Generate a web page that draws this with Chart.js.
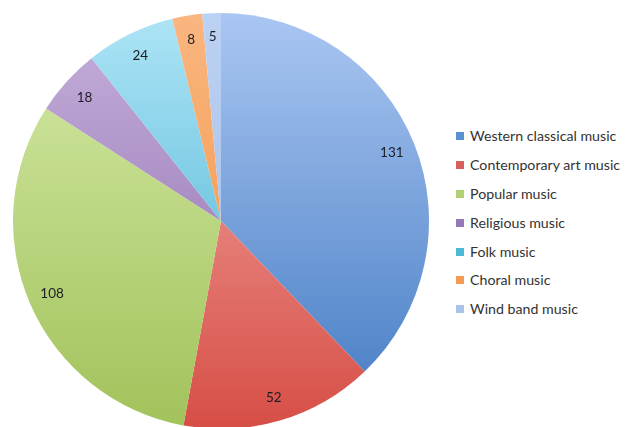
<!DOCTYPE html>
<html><head><meta charset="utf-8">
<script src="https://cdn.jsdelivr.net/npm/chart.js@4/dist/chart.umd.min.js"></script>
<style>
html,body{margin:0;padding:0;background:#fff;overflow:hidden;width:630px;height:427px;}
#wrap{position:absolute;left:0;top:0;width:442px;height:442px;}
#legend{position:absolute;left:456px;top:127px;font-family:Lato,"Open Sans",sans-serif;font-size:14.2px;color:#333;}
.row{height:28.9px;display:flex;align-items:flex-start;white-space:nowrap;}
.sw{width:8px;height:8px;margin:5px 6px 0 0;}
</style></head><body>
<div id="wrap"><canvas id="c" width="442" height="442"></canvas></div>
<div id="legend"></div>
<script>
const categories = ["Western classical music","Contemporary art music","Popular music","Religious music","Folk music","Choral music","Wind band music"];
const counts = [131, 52, 108, 18, 24, 8, 5];
const lightColors = ["#aac6f2","#f6b0ac","#d4eaa8","#c6b0dc","#aee4f6","#fab680","#bcd2f4"];
const darkColors  = ["#427ac2","#d64e46","#a2c25a","#8866a8","#3aacce","#f08e3a","#9eb8e2"];
const legendColors = ["#5b8fd4","#d9605a","#b2d074","#9478b8","#4cb8d8","#f49c54","#a8c2ea"];

function grad(ctx, i){
  const chart = ctx.chart, a = chart.chartArea;
  if(!a) return lightColors[i];
  const g = chart.ctx.createLinearGradient(0, a.top, 0, a.bottom);
  g.addColorStop(0, lightColors[i]);
  g.addColorStop(1, darkColors[i]);
  return g;
}

const labelPlugin = {
  id:'sliceLabels',
  afterDatasetsDraw(chart){
    const ctx = chart.ctx;
    const meta = chart.getDatasetMeta(0);
    ctx.save();
    ctx.font = '13.5px Lato, "Open Sans", sans-serif';
    ctx.fillStyle = '#1c1c24';
    ctx.textAlign = 'center';
    ctx.textBaseline = 'middle';
    meta.data.forEach((arc, i) => {
      const p = arc.getProps(['x','y','startAngle','endAngle','outerRadius'], true);
      const mid = (p.startAngle + p.endAngle) / 2;
      const r = p.outerRadius * 0.885;
      ctx.fillText(String(counts[i]), p.x + Math.cos(mid) * r, p.y + Math.sin(mid) * r);
    });
    ctx.restore();
  }
};

new Chart(document.getElementById('c'), {
  type:'pie',
  data:{ labels:categories, datasets:[{ data:counts, backgroundColor:(ctx)=>grad(ctx, ctx.dataIndex), borderWidth:0 }] },
  options:{
    responsive:false, animation:false,
    layout:{padding:13},
    plugins:{ legend:{display:false}, tooltip:{enabled:false} }
  },
  plugins:[labelPlugin]
});

const lg = document.getElementById('legend');
categories.forEach((c,i)=>{
  const row = document.createElement('div'); row.className='row';
  const sw = document.createElement('span'); sw.className='sw'; sw.style.background = legendColors[i];
  const t = document.createElement('span'); t.textContent = c;
  row.appendChild(sw); row.appendChild(t); lg.appendChild(row);
});
</script>
</body></html>
